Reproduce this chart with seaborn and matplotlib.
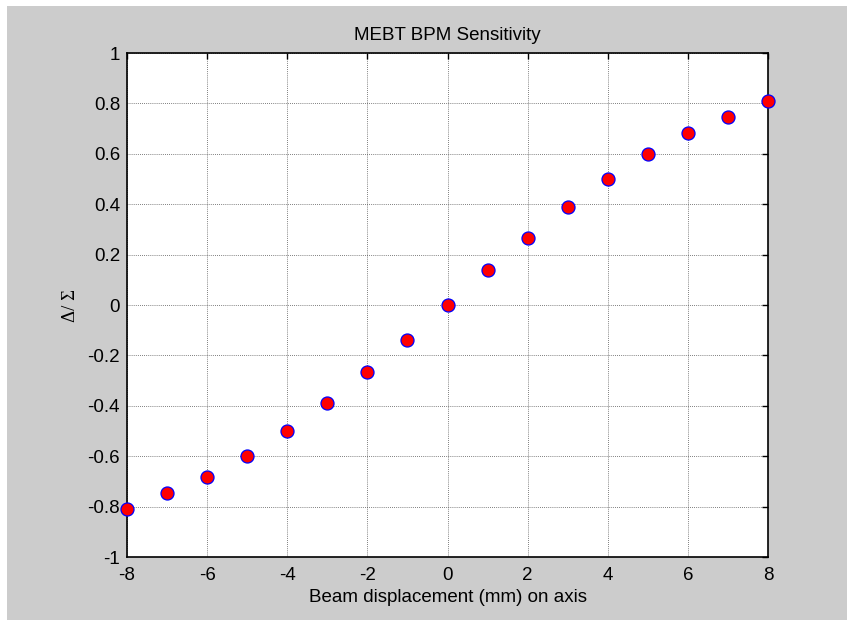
import matplotlib
matplotlib.use("Agg")
import matplotlib.pyplot as plt
import seaborn as sns
import pandas as pd
from matplotlib.patches import Rectangle

displacement = [-8, -7, -6, -5, -4, -3, -2, -1, 0, 1, 2, 3, 4, 5, 6, 7, 8]
ratio = [-0.810, -0.747, -0.681, -0.599, -0.500, -0.389, -0.266, -0.137, 0.0,
         0.137, 0.266, 0.389, 0.500, 0.599, 0.681, 0.747, 0.810]
xticks = [-8, -6, -4, -2, 0, 2, 4, 6, 8]
yticks = [-1, -0.8, -0.6, -0.4, -0.2, 0, 0.2, 0.4, 0.6, 0.8, 1]
ytick_labels = ["-1", "-0.8", "-0.6", "-0.4", "-0.2", "0", "0.2", "0.4", "0.6", "0.8", "1"]

df = pd.DataFrame({"x": displacement, "y": ratio})

sns.set_style("white")
plt.rcParams['font.family'] = ['Liberation Sans', 'DejaVu Sans']
plt.rcParams['text.color'] = 'black'
plt.rcParams['axes.labelcolor'] = 'black'

FS = 13.5

fig = plt.figure(figsize=(8.47, 6.2), dpi=100, facecolor="white")
bg = Rectangle((7 / 847, 0), 1 - 7 / 847, 1 - 6 / 620,
               transform=fig.transFigure, facecolor="#cccccc",
               edgecolor="none", zorder=-10)
fig.patches.append(bg)
ax = fig.add_axes([127 / 847, (620 - 557) / 620, (768 - 127) / 847, (557 - 53) / 620])
ax.set_zorder(1)
ax.set_facecolor("white")

sns.scatterplot(data=df, x="x", y="y", ax=ax, s=88, color="red",
                edgecolor="blue", linewidth=0.9, zorder=5, clip_on=False)

ax.set_xlim(-8, 8)
ax.set_ylim(-1, 1)
ax.set_xticks(xticks)
ax.set_xticklabels([str(t) for t in xticks])
ax.set_yticks(yticks)
ax.set_yticklabels(ytick_labels)
ax.grid(True, linestyle=(0, (1, 1.5)), color="#555555", linewidth=0.6)
ax.set_axisbelow(True)
ax.tick_params(direction="in", length=4, width=1, top=True, right=True,
               labelsize=FS, colors="black")
ax.tick_params(axis="x", pad=7)
ax.tick_params(axis="y", pad=5)
for s in ax.spines.values():
    s.set_color("black")
    s.set_linewidth(1.2)

ax.set_title("MEBT BPM Sensitivity", fontsize=FS, pad=9, color="black")
ax.set_xlabel("Beam displacement (mm) on axis", fontsize=FS, labelpad=4, color="black")
ax.set_ylabel("Δ/ Σ", fontsize=FS, family=["Liberation Serif", "DejaVu Serif"],
              labelpad=6, color="black")

fig.savefig("out.png", dpi=100, facecolor="white")
